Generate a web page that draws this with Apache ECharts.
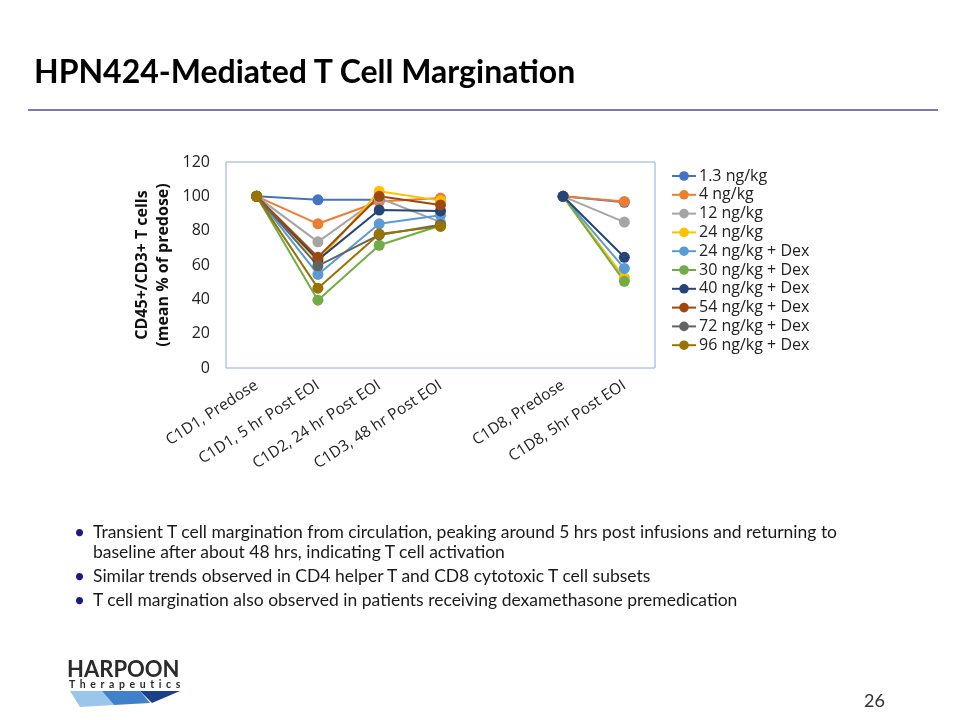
<!DOCTYPE html>
<html>
<head>
<meta charset="utf-8">
<script src="https://cdn.jsdelivr.net/npm/echarts@6/dist/echarts.min.js"></script>
<style>
  html, body { margin: 0; padding: 0; background: #fff; }
  #wrap { position: relative; width: 960px; height: 720px; overflow: hidden; font-family: 'Open Sans', sans-serif; }
  #chart { position: absolute; left: 0; top: 0; width: 960px; height: 720px; }
  #title { position: absolute; left: 34px; top: 51px; font-family: 'Lato', sans-serif; font-weight: bold; font-size: 32px; color: #000; }
  #rule { position: absolute; left: 28px; top: 109px; width: 910px; height: 0; border-top: 2px solid #7a7ab8; }
  #bullets { position: absolute; left: 74px; top: 522px; width: 800px; font-family: 'Lato', sans-serif; font-size: 17.5px; color: #1a1a1a; line-height: 20px; }
  .b { position: relative; padding-left: 19px; margin-bottom: 4px; }
  .b:before { content: "\2022"; position: absolute; left: 0; top: 0; color: #1a1a80; font-size: 19px; }
  #page { position: absolute; left: 864px; top: 689px; font-family: 'Lato', sans-serif; font-size: 18px; color: #333; }
  #logo1 { position: absolute; left: 67px; top: 655px; font-family: 'Lato', sans-serif; font-weight: bold; font-size: 22px; letter-spacing: 0px; color: #2b2b2b; }
  #logo2 { position: absolute; left: 69px; top: 678px; font-family: 'Lato', sans-serif; font-weight: bold; font-size: 10.5px; letter-spacing: 4.6px; color: #2b2b2b; }
</style>
</head>
<body>
<div id="wrap">
  <div id="chart"></div>
  <div id="title">HPN424-Mediated T Cell Margination</div>
  <div id="rule"></div>
  <div id="bullets">
    <div class="b">Transient T cell margination from circulation, peaking around 5 hrs post infusions and returning to baseline after about 48 hrs, indicating T cell activation</div>
    <div class="b">Similar trends observed in CD4 helper T and CD8 cytotoxic T cell subsets</div>
    <div class="b">T cell margination also observed in patients receiving dexamethasone premedication</div>
  </div>
  <div id="page">26</div>
  <div id="logo1">HARPOON</div>
  <div id="logo2">Therapeutics</div>
  <svg style="position:absolute;left:62px;top:691px" width="130" height="22">
    <polygon points="8,0 40,0 52,14 18,16" fill="#9cc5ec"/>
    <polygon points="40,0 78,0 88,12 52,14" fill="#3f82c9"/>
    <polygon points="78,0 118,0 90,12" fill="#1c3f8c"/>
  </svg>
</div>
<script>
const categories = ['C1D1, Predose', 'C1D1, 5 hr Post EOI', 'C1D2, 24 hr Post EOI', 'C1D3, 48 hr Post EOI', '', 'C1D8, Predose', 'C1D8, 5hr Post EOI'];
const yTicks = [0, 20, 40, 60, 80, 100, 120];

const seriesNames = ['1.3 ng/kg', '4 ng/kg', '12 ng/kg', '24 ng/kg', '24 ng/kg + Dex', '30 ng/kg + Dex', '40 ng/kg + Dex', '54 ng/kg + Dex', '72 ng/kg + Dex', '96 ng/kg + Dex'];
const s1_3   = [100, 98, 98, null, null, 100, 96.5];
const s4     = [100, 84, 97, 99, null, 100, 97];
const s12    = [100, 73.5, 99, 85, null, 100, 85];
const s24    = [100, 62, 103, 97.5, null, 100, 52.5];
const s24Dex = [100, 54.5, 84, 89, null, 100, 58];
const s30Dex = [100, 39.5, 71.5, 83, null, 100, 50.5];
const s40Dex = [100, 63, 92, 91.5, null, 100, 64.5];
const s54Dex = [100, 64.5, 100, 95, null, null, null];
const s72Dex = [100, 59.5, 77.5, 83.5, null, null, null];
const s96Dex = [100, 46.5, 78, 82.5, null, null, null];
const seriesValues = [s1_3, s4, s12, s24, s24Dex, s30Dex, s40Dex, s54Dex, s72Dex, s96Dex];
const colors = ['#4472C4', '#ED7D31', '#A5A5A5', '#FFC000', '#5B9BD5', '#70AD47', '#264478', '#9E480E', '#636363', '#997300'];

const chart = echarts.init(document.getElementById('chart'));
chart.setOption({
  animation: false,
  color: colors,
  textStyle: { fontFamily: 'Open Sans' },
  grid: { left: 226, right: 305, top: 162, bottom: 352, show: true, borderColor: '#8eaadb', borderWidth: 1 },
  legend: {
    orient: 'vertical', left: 666, top: 163, itemGap: 2.8, itemWidth: 24, itemHeight: 12,
    textStyle: { fontSize: 16, color: '#222', fontFamily: 'Open Sans', padding: [0, 0, 0, -2] },
    data: seriesNames
  },
  xAxis: {
    type: 'category', data: categories, boundaryGap: true,
    axisLine: { show: false }, axisTick: { show: false },
    axisLabel: { interval: 0, rotate: 33, fontSize: 15.5, color: '#222', margin: 16 }
  },
  yAxis: {
    type: 'value', min: yTicks[0], max: yTicks[yTicks.length - 1], interval: 20,
    splitLine: { show: false }, axisLine: { show: false }, axisTick: { show: false },
    axisLabel: { fontSize: 16, color: '#222', margin: 16 },
    name: 'CD45+/CD3+ T cells\n(mean % of predose)', nameLocation: 'middle', nameRotate: 90, nameGap: 52,
    nameTextStyle: { fontSize: 16, fontWeight: 'bold', color: '#111', lineHeight: 21 }
  },
  series: seriesNames.map((n, i) => ({
    name: n, type: 'line', data: seriesValues[i], connectNulls: false,
    symbol: 'circle', symbolSize: 11, showSymbol: true,
    lineStyle: { width: 2 }, itemStyle: { color: colors[i] }
  }))
});
</script>
</body>
</html>
